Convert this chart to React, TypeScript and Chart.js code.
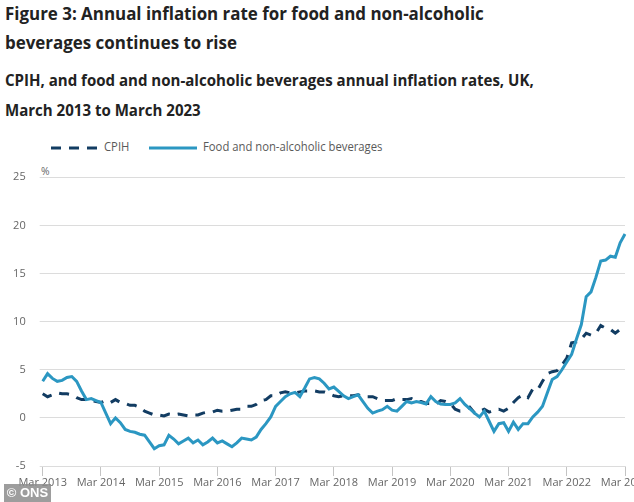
import React, { useEffect, useRef } from 'react';
import { Chart, registerables } from 'chart.js';

Chart.register(...registerables);

// ---- Data ----
const MONTH_NAMES = ['Jan', 'Feb', 'Mar', 'Apr', 'May', 'Jun', 'Jul', 'Aug', 'Sep', 'Oct', 'Nov', 'Dec'];
const START_YEAR = 2013;
const START_MONTH = 2; // March
const N_MONTHS = 121; // Mar 2013 .. Mar 2023

const categories: string[] = [];
for (let i = 0; i < N_MONTHS; i++) {
  const k = START_MONTH + i;
  categories.push(`${MONTH_NAMES[k % 12]} ${START_YEAR + Math.floor(k / 12)}`);
}

// CPIH annual rate, %
const cpih: number[] = [
  // 2013 Mar-Dec
  2.5, 2.2, 2.4, 2.6, 2.5, 2.5, 2.4, 2.1, 1.9, 1.9,
  // 2014
  1.8, 1.7, 1.6, 1.8, 1.6, 1.9, 1.6, 1.5, 1.3, 1.3, 1.1, 0.7,
  // 2015
  0.5, 0.3, 0.3, 0.2, 0.4, 0.3, 0.4, 0.3, 0.2, 0.3, 0.3, 0.5,
  // 2016
  0.6, 0.6, 0.8, 0.7, 0.7, 0.8, 0.9, 0.9, 1.2, 1.2, 1.4, 1.8,
  // 2017
  1.9, 2.3, 2.3, 2.6, 2.7, 2.6, 2.6, 2.7, 2.8, 2.8, 2.8, 2.7,
  // 2018
  2.7, 2.5, 2.3, 2.2, 2.3, 2.3, 2.3, 2.4, 2.2, 2.2, 2.2, 2.0,
  // 2019
  1.8, 1.8, 1.8, 2.0, 1.9, 1.9, 2.0, 1.7, 1.7, 1.5, 1.5, 1.4,
  // 2020
  1.8, 1.7, 1.5, 0.9, 0.7, 0.8, 1.1, 0.5, 0.7, 0.9, 0.6, 0.8,
  // 2021
  0.9, 0.7, 1.0, 1.6, 2.1, 2.4, 2.1, 3.0, 2.9, 3.8, 4.6, 4.8,
  // 2022
  4.9, 5.5, 6.2, 7.8, 7.9, 8.2, 8.8, 8.6, 8.8, 9.6, 9.3, 9.2,
  // 2023 Jan-Mar
  8.8, 9.2, 8.9,
];

// Food and non-alcoholic beverages annual rate, %
const food: number[] = [
  // 2013 Mar-Dec
  3.8, 4.6, 4.1, 3.8, 3.9, 4.2, 4.3, 3.8, 2.8, 1.9,
  // 2014
  2.0, 1.8, 1.6, 0.5, -0.6, 0.0, -0.5, -1.2, -1.4, -1.5, -1.7, -1.8,
  // 2015
  -2.5, -3.2, -2.9, -2.8, -1.8, -2.2, -2.7, -2.4, -2.1, -2.6, -2.3, -2.8,
  // 2016
  -2.5, -2.1, -2.6, -2.4, -2.7, -3.0, -2.6, -2.1, -2.2, -2.3, -2.0, -1.2,
  // 2017
  -0.6, 0.1, 1.2, 1.7, 2.2, 2.5, 2.65, 2.2, 3.1, 4.05, 4.2, 4.05,
  // 2018
  3.6, 3.0, 3.2, 2.75, 2.3, 2.0, 2.2, 2.4, 1.7, 1.0, 0.5, 0.7,
  // 2019
  0.85, 1.2, 0.8, 0.7, 1.2, 1.7, 1.55, 1.7, 1.6, 1.45, 2.2, 1.7,
  // 2020
  1.45, 1.4, 1.4, 1.55, 2.0, 1.4, 0.95, 0.5, 0.1, 0.7, -0.35, -1.4,
  // 2021
  -0.6, -0.5, -1.4, -0.45, -1.2, -0.6, -0.6, 0.1, 0.6, 1.2, 2.6, 4.0,
  // 2022
  4.3, 5.0, 5.8, 6.6, 8.2, 9.7, 12.6, 13.1, 14.6, 16.3, 16.4, 16.8,
  // 2023 Jan-Mar
  16.7, 18.2, 19.1,
];

const Y_MIN = -5;
const Y_MAX = 25;
const Y_STEP = 5;

const TITLE_LINES = ['Figure 3: Annual inflation rate for food and non-alcoholic', 'beverages continues to rise'];
const SUBTITLE_LINES = ['CPIH, and food and non-alcoholic beverages annual inflation rates, UK,', 'March 2013 to March 2023'];
const SERIES_NAMES = ['CPIH', 'Food and non-alcoholic beverages'];

// ---- Styles ----
const CPIH_COLOR = '#123c62';
const FOOD_COLOR = '#2b97c2';
const GRID_COLOR = '#dcdcdc';
const TICK_TEXT = '#666666';
const FONT = "'Open Sans', sans-serif";
const SQUEEZE = 0.94;

export default function App() {
  const canvasRef = useRef<HTMLCanvasElement>(null);

  useEffect(() => {
    document.body.style.margin = '0';
    const canvas = canvasRef.current;
    if (!canvas) return;
    const chart = new Chart(canvas, {
      type: 'line',
      data: {
        labels: categories,
        datasets: [
          {
            label: SERIES_NAMES[1],
            data: food,
            borderColor: FOOD_COLOR,
            borderWidth: 3,
            pointRadius: 0,
            tension: 0,
            fill: false,
          },
          {
            label: SERIES_NAMES[0],
            data: cpih,
            borderColor: CPIH_COLOR,
            borderWidth: 3,
            borderDash: [10, 8],
            pointRadius: 0,
            tension: 0,
            fill: false,
          },
        ],
      },
      options: {
        animation: false,
        responsive: false,
        devicePixelRatio: 1,
        layout: { padding: { left: 0, right: 9, top: 17.3, bottom: 0 } },
        plugins: {
          legend: { display: false },
          tooltip: { enabled: false },
          title: { display: false },
        },
        scales: {
          x: {
            type: 'category',
            grid: {
              display: true,
              drawOnChartArea: false,
              drawTicks: true,
              tickLength: 10,
              color: (ctx: any) => (ctx.index % 12 === 0 ? '#c4c4c4' : 'rgba(0,0,0,0)'),
            },
            border: { display: true, color: GRID_COLOR, width: 1 },
            ticks: {
              autoSkip: false,
              maxRotation: 0,
              minRotation: 0,
              padding: 0,
              color: TICK_TEXT,
              font: { family: FONT, size: 11 },
              callback: (_v: any, index: number) => (index % 12 === 0 ? categories[index] : ''),
            },
            afterFit: (scale: any) => {
              scale.height = 36;
              scale.paddingLeft = 0;
              scale.paddingRight = 0;
            },
          },
          y: {
            min: Y_MIN,
            max: Y_MAX,
            grid: {
              color: GRID_COLOR,
              lineWidth: 1,
              drawTicks: true,
              tickLength: 3,
            },
            border: { display: false },
            ticks: {
              stepSize: Y_STEP,
              padding: 14,
              color: TICK_TEXT,
              font: { family: FONT, size: 11 },
            },
            afterFit: (scale: any) => {
              scale.width = 42.7;
              scale.paddingTop = 0;
              scale.paddingBottom = 0;
            },
          },
        },
      },
    });
    return () => chart.destroy();
  }, []);

  const textBase: React.CSSProperties = {
    position: 'absolute',
    whiteSpace: 'nowrap',
    fontFamily: FONT,
    transform: `scaleX(${SQUEEZE})`,
    transformOrigin: '0 0',
  };

  return (
    <div
      style={{
        position: 'relative',
        width: 634,
        height: 502,
        overflow: 'hidden',
        background: '#ffffff',
        fontFamily: FONT,
      }}
    >
      <div style={{ ...textBase, left: 5, top: -1.5, fontSize: 18, fontWeight: 700, lineHeight: '29px', color: '#222222' }}>
        {TITLE_LINES[0]}
        <br />
        {TITLE_LINES[1]}
      </div>
      <div style={{ ...textBase, left: 5, top: 66.4, fontSize: 16, fontWeight: 700, lineHeight: '29.4px', color: '#222222' }}>
        {SUBTITLE_LINES[0]}
        <br />
        {SUBTITLE_LINES[1]}
      </div>

      {/* Legend */}
      <svg style={{ position: 'absolute', left: 0, top: 140 }} width={220} height={16}>
        <line x1={51} x2={97} y1={8} y2={8} stroke={CPIH_COLOR} strokeWidth={3} strokeDasharray="10 8" />
        <line x1={149} x2={197} y1={8} y2={8} stroke={FOOD_COLOR} strokeWidth={3} />
      </svg>
      <div style={{ ...textBase, left: 103.5, top: 139, fontSize: 12, lineHeight: '16px', color: '#595959' }}>{SERIES_NAMES[0]}</div>
      <div style={{ ...textBase, left: 203, top: 139, fontSize: 12, lineHeight: '16px', color: '#595959' }}>{SERIES_NAMES[1]}</div>

      <div style={{ ...textBase, left: 41, top: 163, fontSize: 11, lineHeight: '15px', color: '#666666' }}>%</div>

      <canvas
        ref={canvasRef}
        width={634}
        height={342}
        style={{ position: 'absolute', left: 0, top: 160, width: 634, height: 342 }}
      />

      <div
        style={{
          position: 'absolute',
          left: 4,
          top: 484,
          width: 47,
          height: 18,
          background: 'rgba(140,140,140,0.85)',
          color: '#ffffff',
          fontFamily: "'Liberation Sans', Arial, sans-serif",
          fontWeight: 700,
          fontSize: 13,
          lineHeight: '18px',
          textAlign: 'center',
          whiteSpace: 'nowrap',
        }}
      >
        © ONS
      </div>
    </div>
  );
}
